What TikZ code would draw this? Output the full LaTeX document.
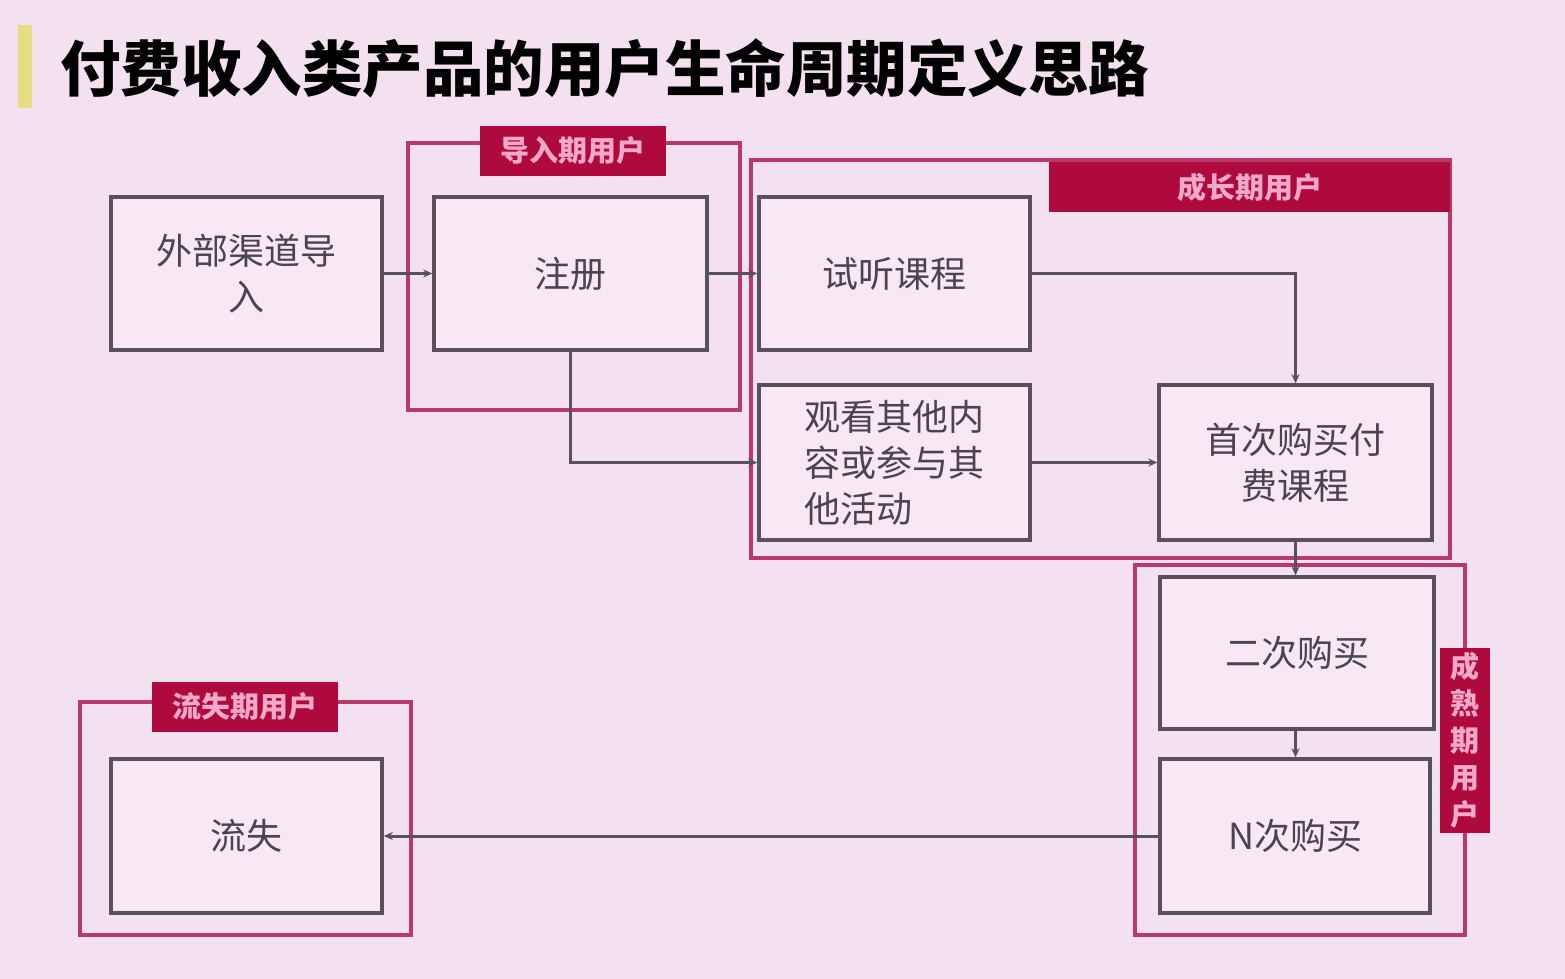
\documentclass[tikz,border=0pt]{standalone}
\usepackage{fontspec}
\setmainfont{Noto Sans CJK SC}
\usetikzlibrary{arrows.meta}
\definecolor{bgc}{HTML}{F4E1EF}
\definecolor{boxfill}{HTML}{F7E8F4}
\definecolor{boxline}{HTML}{58505A}
\definecolor{framec}{HTML}{B83A6C}
\definecolor{labelc}{HTML}{AE0A3E}
\definecolor{labeltxt}{HTML}{F2A8C8}
\definecolor{txtc}{HTML}{4A4450}
\definecolor{barc}{HTML}{E6DE80}
\tikzset{
  box/.style={draw=boxline, line width=3.5pt, fill=boxfill, text=txtc, inner sep=0pt,
    font=\fontsize{36}{46}\selectfont, align=center},
  frame/.style={draw=framec, line width=3.5pt},
  grp/.style={fill=labelc, text=labeltxt, inner sep=0pt, font=\fontsize{29}{33}\selectfont\bfseries},
  conn/.style={draw=boxline, line width=3pt, -{Stealth[length=9pt,width=8pt]}},
}
\begin{document}
\begin{tikzpicture}[x=1pt,y=1pt]
\useasboundingbox (0,0) rectangle (1565,-979);
\fill[bgc] (0,0) rectangle (1565,-979);
% title
\fill[barc] (18,-25) rectangle (32,-108);
\node[anchor=west, inner sep=0pt, text=black, font=\fontsize{60.5}{64}\selectfont\bfseries] (title) at (60,-68) {付费收入类产品的用户生命周期定义思路};
% frames
\draw[frame] (408,-143) rectangle (740,-410);
\draw[frame] (751,-160) rectangle (1450,-558);
\draw[frame] (1135,-565) rectangle (1465,-935);
\draw[frame] (80,-702) rectangle (411,-935);
% boxes
\node[box, minimum width=271pt, minimum height=153pt] (ext) at (246.5,-273.5) {外部渠道导\\入};
\node[box, minimum width=273pt, minimum height=153pt] (reg) at (570.5,-273.5) {注册};
\node[box, minimum width=271pt, minimum height=153pt] (trial) at (894.5,-273.5) {试听课程};
\node[box, minimum width=271pt, minimum height=155pt, align=left] (watch) at (894.5,-462.5) {观看其他内\\容或参与其\\他活动};
\node[box, minimum width=273pt, minimum height=155pt] (first) at (1295.5,-462.5) {首次购买付\\费课程};
\node[box, minimum width=274pt, minimum height=152pt] (second) at (1297,-653) {二次购买};
\node[box, minimum width=270pt, minimum height=154pt] (nth) at (1295,-836) {N次购买};
\node[box, minimum width=271pt, minimum height=154pt] (lost) at (246.5,-836) {流失};
% group labels
\node[grp, minimum width=186pt, minimum height=50pt] (lbl1) at (573,-151) {导入期用户};
\node[grp, minimum width=401pt, minimum height=50pt] (lbl2) at (1249.5,-187) {成长期用户};
\node[grp, minimum width=50pt, minimum height=185pt, align=center, font=\fontsize{29}{37}\selectfont\bfseries] (lbl3) at (1465,-740.5) {成\\熟\\期\\用\\户};
\node[grp, minimum width=186pt, minimum height=50pt] (lbl4) at (245,-707) {流失期用户};
% connectors
\draw[conn] (ext.east) -- (reg.west);
\draw[conn] (reg.east) -- (trial.west);
\draw[conn] (reg.south) |- (watch.west);
\draw[conn] (trial.east) -| (first.north);
\draw[conn] (watch.east) -- (first.west);
\draw[conn] (first.south) -- (second.north -| first.south);
\draw[conn] (second.south -| first.south) -- (nth.north -| first.south);
\draw[conn] (nth.west) -- (lost.east);
\end{tikzpicture}
\end{document}
